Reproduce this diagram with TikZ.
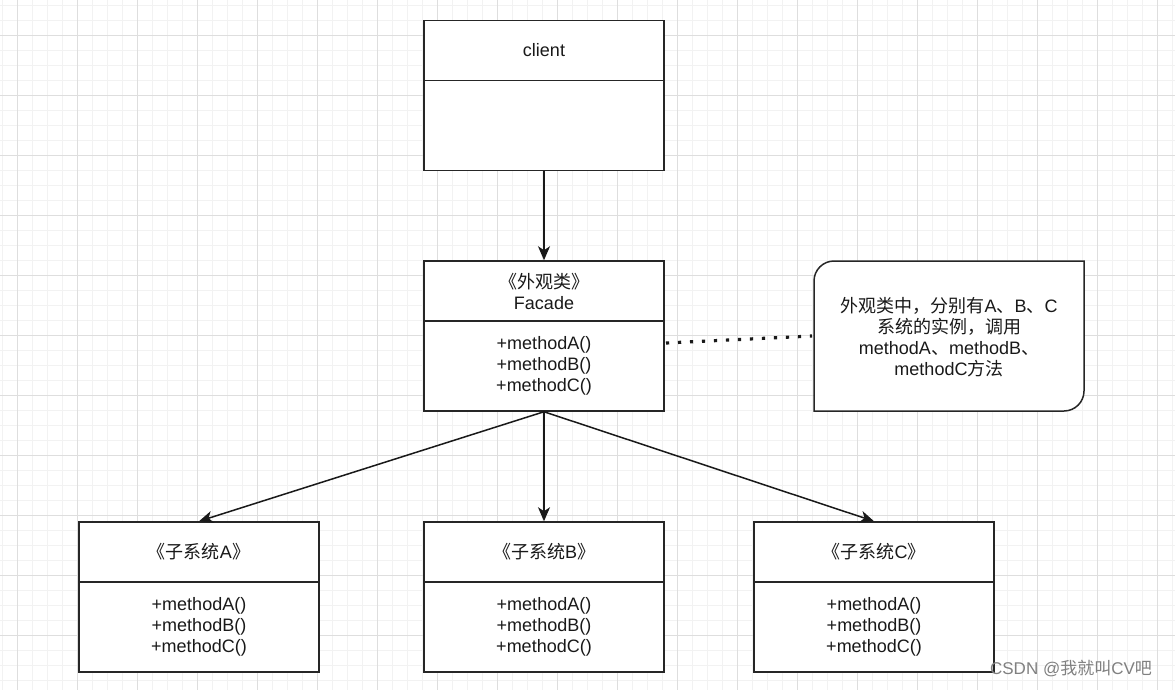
\documentclass[tikz,border=0pt]{standalone}
\usepackage{fontspec}
\setmainfont{Liberation Sans}
\newfontfamily\cjk{Noto Sans CJK SC}
\usetikzlibrary{arrows.meta}
\begin{document}
\begin{tikzpicture}[x=1pt,y=-1pt,
  txt/.style={font=\fontsize{18pt}{21pt}\selectfont, align=center, text=black!90},
  head/.style={txt, draw=black!85, line width=1.5pt, fill=white, minimum width=240pt, minimum height=60pt, inner sep=0pt},
  body/.style={head, minimum height=90pt},
  conn/.style={draw=black!90, line width=1.5pt, -{Stealth[length=14pt,width=12pt,inset=4pt]}},
  dotline/.style={draw=black!90, line width=3.2pt, dash pattern=on 3.2pt off 8.8pt},
  minorgrid/.style={draw=black!5, line width=0.8pt},
  majorgrid/.style={draw=black!13, line width=0.9pt}]
\useasboundingbox (0,0) rectangle (1175,690);
\fill[white] (0,0) rectangle (1175,690);
% grid
\foreach \x in {2,17,...,1175} \draw[minorgrid] (\x,0) -- (\x,690);
\foreach \y in {5,20,...,690} \draw[minorgrid] (0,\y) -- (1175,\y);
\foreach \x in {17,77,...,1175} \draw[majorgrid] (\x,0) -- (\x,690);
\foreach \y in {35,95,...,690} \draw[majorgrid] (0,\y) -- (1175,\y);

% client
\node[body] (clientBody) at (544,125.5) {};
\node[head] (clientHead) at (544,50.5) {client};
% facade
\node[body] (facadeBody) at (544,366) {+methodA()\\+methodB()\\+methodC()};
\node[head] (facadeHead) at (544,291) {{\cjk 《外观类》}\\Facade};
% subsystems
\node[body] (aBody) at (199,627) {+methodA()\\+methodB()\\+methodC()};
\node[head] (aHead) at (199,552) {{\cjk 《子系统}A{\cjk 》}};
\node[body] (bBody) at (544,627) {+methodA()\\+methodB()\\+methodC()};
\node[head] (bHead) at (544,552) {{\cjk 《子系统}B{\cjk 》}};
\node[body] (cBody) at (874,627) {+methodA()\\+methodB()\\+methodC()};
\node[head] (cHead) at (874,552) {{\cjk 《子系统}C{\cjk 》}};

% note shape
\draw[draw=black!85, line width=1.5pt, fill=white]
  (814,281) .. controls (814,270) and (823,261) .. (834,261) -- (1084,261) -- (1084,391)
  .. controls (1084,402) and (1075,411) .. (1064,411) -- (814,411) -- cycle;
\node[txt] (note) at (949,337) {{\cjk 外观类中，分别有}A{\cjk 、}B{\cjk 、}C\\{\cjk 系统的实例，调用}\\methodA{\cjk 、}methodB{\cjk 、}\\methodC{\cjk 方法}};

% connectors
\draw[conn] (clientBody.south) -- (facadeHead.north);
\draw[conn] (facadeBody.south) -- (aHead.north);
\draw[conn] (facadeBody.south) -- (bHead.north);
\draw[conn] (facadeBody.south) -- (cHead.north);
\coordinate (dotStart) at (666,343);
\coordinate (dotEnd) at (812,336);
\draw[dotline] (dotStart) -- (dotEnd);

% watermark
\node[txt, text=black!50, font=\fontsize{17pt}{20pt}\selectfont] (wm) at (1071,669) {CSDN @{\cjk 我就叫}CV{\cjk 吧}};
\end{tikzpicture}
\end{document}
